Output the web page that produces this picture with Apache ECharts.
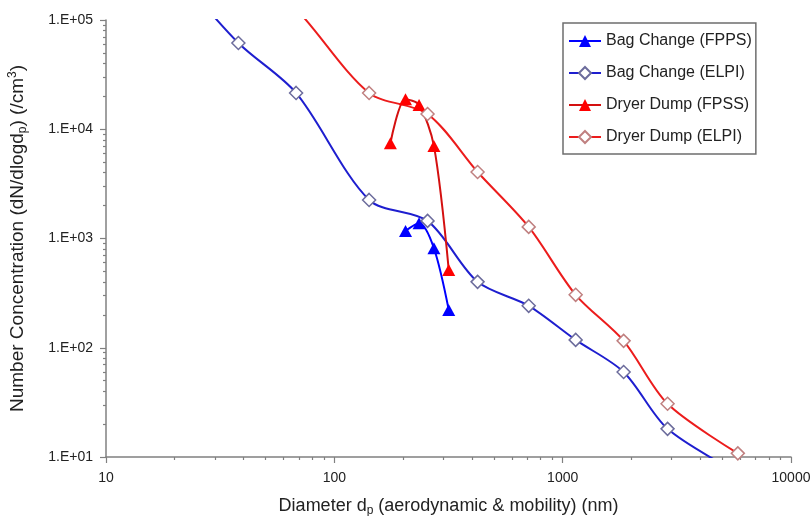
<!DOCTYPE html>
<html>
<head>
<meta charset="utf-8">
<script src="https://cdn.jsdelivr.net/npm/echarts@6/dist/echarts.min.js"></script>
<style>
html,body{margin:0;padding:0;background:#fff;}
#chart{width:810px;height:516px;}
</style>
</head>
<body>
<div id="chart"></div>
<script>
// ---- data (diameter in nm, concentration in /cm3) ----
const bagFppsX = [205, 235, 273, 317];
const bagFppsY = [1174, 1380, 815, 222];

const bagElpiX = [21, 38, 68, 142, 256, 424, 710, 1140, 1849, 2880, 5770];
const bagElpiY = [250000, 61600, 21500, 2255, 1449, 401, 242, 118, 60, 18.1, 7.3];

const dryFpssX = [176, 205, 235, 273, 317];
const dryFpssY = [7446, 18800, 16700, 7035, 516];

const dryElpiX = [38, 68, 142, 256, 424, 710, 1140, 1849, 2880, 5850];
const dryElpiY = [350000, 126000, 21500, 13800, 4065, 1277, 305, 115.6, 30.7, 10.8];

const seriesNames = ['Bag Change (FPPS)', 'Bag Change (ELPI)', 'Dryer Dump (FPSS)', 'Dryer Dump (ELPI)'];

const xMajorTicks = [10, 100, 1000, 10000];
const xTickLabels = ['10', '100', '1000', '10000'];
const xMinorTicks = [20,30,40,50,60,70,80,90,200,300,400,500,600,700,800,900,2000,3000,4000,5000,6000,7000,8000,9000];
const yMajorTicks = [10, 100, 1000, 10000, 100000];
const yTickLabels = ['1.E+01', '1.E+02', '1.E+03', '1.E+04', '1.E+05'];
const yMinorTicks = [];
[10, 100, 1000, 10000].forEach(b => { for (let k = 2; k <= 9; k++) yMinorTicks.push(b * k); });

function pairs(xs, ys) { return xs.map((x, i) => [x, ys[i]]); }

const FONT = 'Liberation Sans, Arial, sans-serif';
const AX = '#808080';

const chart = echarts.init(document.getElementById('chart'), null, {renderer: 'canvas'});

const baseX = {
  type: 'log', logBase: 10, min: 10, max: 10000, gridIndex: 0, position: 'bottom',
  splitLine: {show: false}, minorTick: {show: false}, minorSplitLine: {show: false}
};
const baseY = {
  type: 'log', logBase: 10, min: 10, max: 100000, gridIndex: 0, position: 'left',
  splitLine: {show: false}, minorTick: {show: false}, minorSplitLine: {show: false}
};

const option = {
  backgroundColor: '#ffffff',
  animation: false,
  textStyle: {fontFamily: FONT},
  grid: {left: 106, right: 19, top: 20, bottom: 59, containLabel: false, outerBoundsMode: 'none'},
  legend: {
    orient: 'vertical', left: 563, top: 23,
    padding: [10, 4, 9, 5],
    itemGap: 16, itemWidth: 32, itemHeight: 15,
    backgroundColor: '#ffffff', borderColor: '#6e6e6e', borderWidth: 1.5,
    textStyle: {fontFamily: FONT, fontSize: 16, color: '#222'},
    data: seriesNames
  },
  xAxis: [
    Object.assign({}, baseX, {
      name: '{a|Diameter d}{s|p}{a| (aerodynamic & mobility) (nm)}',
      nameLocation: 'middle', nameGap: 38,
      nameTextStyle: {
        rich: {
          a: {fontFamily: FONT, fontSize: 18, color: '#222', lineHeight: 22},
          s: {fontFamily: FONT, fontSize: 12, color: '#222', verticalAlign: 'bottom'}
        }
      },
      axisLine: {show: true, lineStyle: {color: AX, width: 1.5}},
      axisTick: {show: true, inside: false, length: 6, lineStyle: {color: AX, width: 1.2}, customValues: xMajorTicks},
      axisLabel: {show: true, margin: 14, fontFamily: FONT, fontSize: 14, color: '#222', customValues: xMajorTicks,
        formatter: v => xTickLabels[xMajorTicks.indexOf(Math.round(v))] || ''}
    }),
    Object.assign({}, baseX, {
      axisLine: {show: false},
      axisTick: {show: true, inside: false, length: 3, lineStyle: {color: AX, width: 1.2}, customValues: xMinorTicks},
      axisLabel: {show: false}
    })
  ],
  yAxis: [
    Object.assign({}, baseY, {
      name: '{a|Number Concentration (dN/dlogd}{s|p}{a|) (/cm}{u|3}{a|)}',
      nameLocation: 'middle', nameGap: 77, nameRotate: 90,
      nameTextStyle: {
        rich: {
          a: {fontFamily: FONT, fontSize: 19, color: '#222', lineHeight: 22},
          s: {fontFamily: FONT, fontSize: 12, color: '#222', verticalAlign: 'bottom'},
          u: {fontFamily: FONT, fontSize: 12, color: '#222', verticalAlign: 'top'}
        }
      },
      axisLine: {show: true, lineStyle: {color: AX, width: 1.5}},
      axisTick: {show: true, inside: false, length: 6, lineStyle: {color: AX, width: 1.2}, customValues: yMajorTicks},
      axisLabel: {show: true, margin: 13, fontFamily: FONT, fontSize: 14, color: '#222', customValues: yMajorTicks,
        formatter: v => yTickLabels[yMajorTicks.indexOf(Math.round(v))] || ''}
    }),
    Object.assign({}, baseY, {
      axisLine: {show: false},
      axisTick: {show: true, inside: false, length: 3, lineStyle: {color: AX, width: 1.2}, customValues: yMinorTicks},
      axisLabel: {show: false}
    })
  ],
  series: [
    {
      name: seriesNames[0], type: 'line', xAxisIndex: 0, yAxisIndex: 0,
      data: pairs(bagFppsX, bagFppsY), smooth: 0.3, clip: true,
      symbol: 'triangle', symbolSize: [13, 12],
      lineStyle: {color: '#0000ff', width: 2},
      itemStyle: {color: '#0000ff', borderColor: '#0000ff', borderWidth: 0}
    },
    {
      name: seriesNames[1], type: 'line', xAxisIndex: 0, yAxisIndex: 0,
      data: pairs(bagElpiX, bagElpiY), smooth: 0.3, clip: true,
      symbol: 'diamond', symbolSize: [13, 13], showAllSymbol: true,
      lineStyle: {color: '#1e1ecf', width: 2},
      itemStyle: {color: '#ffffff', borderColor: '#6c6c9c', borderWidth: 1.5}
    },
    {
      name: seriesNames[2], type: 'line', xAxisIndex: 0, yAxisIndex: 0,
      data: pairs(dryFpssX, dryFpssY), smooth: 0.3, clip: true,
      symbol: 'triangle', symbolSize: [13, 12],
      lineStyle: {color: '#d41010', width: 2},
      itemStyle: {color: '#ff0000', borderColor: '#ff0000', borderWidth: 0}
    },
    {
      name: seriesNames[3], type: 'line', xAxisIndex: 0, yAxisIndex: 0,
      data: pairs(dryElpiX, dryElpiY), smooth: 0.3, clip: true,
      symbol: 'diamond', symbolSize: [13, 13], showAllSymbol: true,
      lineStyle: {color: '#ec1c1c', width: 2},
      itemStyle: {color: '#ffffff', borderColor: '#c08080', borderWidth: 1.5}
    }
  ]
};
chart.setOption(option);
</script>
</body>
</html>
